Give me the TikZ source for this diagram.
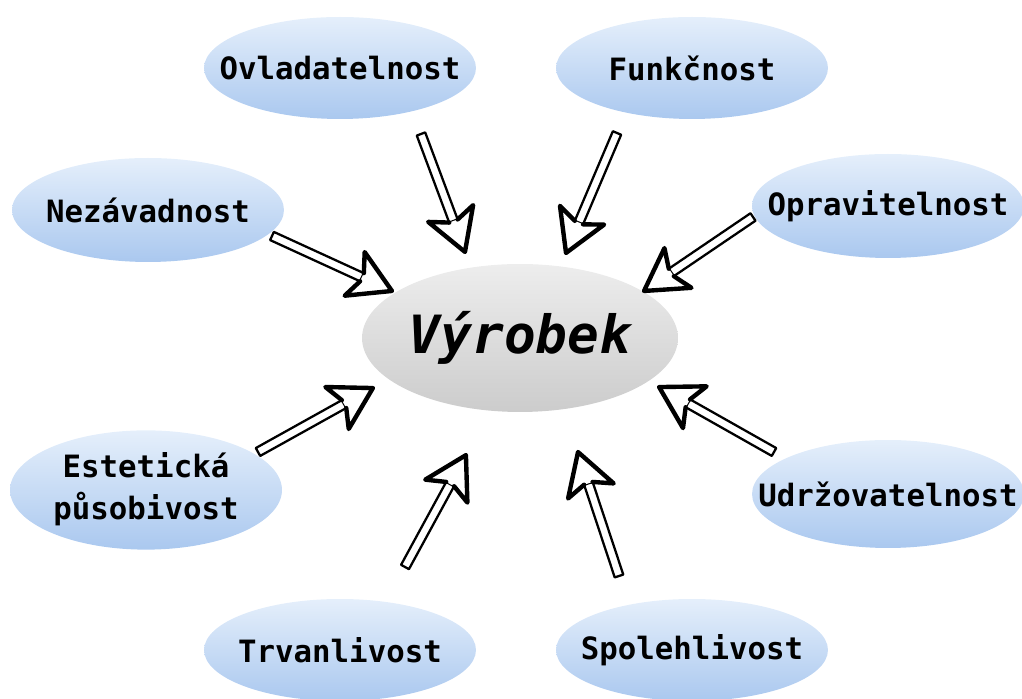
\documentclass[tikz,border=0pt]{standalone}
\usepackage{fontspec}
\setmonofont{DejaVu Sans Mono}
\usepackage{tikz}
\usetikzlibrary{shapes,calc,positioning}
\definecolor{qtop}{RGB}{229,239,251}
\definecolor{qbottom}{RGB}{170,200,239}
\tikzset{
  quality/.style={ellipse, inner sep=0pt, minimum width=5.44cm, minimum height=2.04cm,
    top color=qtop, bottom color=qbottom, draw=none,
    font=\ttfamily\bfseries\fontsize{17.5}{24}\selectfont},
  product/.style={ellipse, inner sep=0pt, minimum width=6.32cm, minimum height=2.96cm,
    top color=gray!14, middle color=gray!26, bottom color=gray!40, draw=none,
    font=\ttfamily\bfseries\itshape\fontsize{30}{36}\selectfont},
  arrowshaft/.style={draw=black, fill=white, line width=1.3pt, line join=round},
  arrowhead/.style={draw=black, fill=white, line width=2.5pt, line join=round, line cap=round}
}
% zero-width label so the ellipse keeps its own size
\newcommand{\lbl}[1]{\makebox[0pt]{#1}}
% hollow hand-drawn arrow from #1 (tail) to #2 (tip)
\newcommand{\hollowarrow}[2]{%
  \path let \p1=(#1), \p2=(#2) in \pgfextra{%
    \pgfmathparse{atan2(\y2-\y1,\x2-\x1)}\xdef\harrang{\pgfmathresult}%
    \pgfmathparse{veclen(\x2-\x1,\y2-\y1)/0.56905}\xdef\harrlen{\pgfmathresult}};
  \begin{scope}[shift={(#1)}, rotate=\harrang]
    \draw[arrowshaft] (0,-4.5) rectangle (\harrlen-33,4.5);
    \draw[arrowhead] (\harrlen-33,4.5) -- (\harrlen-41,24) -- (\harrlen,0)
      -- (\harrlen-41,-24) -- (\harrlen-33,-4.5);
  \end{scope}}

\begin{document}
\begin{tikzpicture}[x=0.02cm, y=0.02cm]
\useasboundingbox (0,0) rectangle (1022,699);

% Centre
\node[product] (vyr) at (520,361) {\lbl{Výrobek}};

% Properties
\node[quality] (ovl) at (340,631) {\lbl{Ovladatelnost}};
\node[quality] (fun) at (692,631) {\lbl{Funkčnost}};
\node[quality, minimum height=2.08cm] (nez) at (148,489) {\lbl{Nezávadnost}};
\node[quality, minimum height=2.08cm] (opr) at (888,493) {\lbl{Opravitelnost}};
\node[quality] (est) at (146,209) {\lbl{\begin{tabular}{@{}c@{}}Estetická\\působivost\end{tabular}}};
\node[quality, minimum height=2.16cm] (udr) at (888,205) {\lbl{Udržovatelnost}};
\node[quality] (trv) at (340,49) {\lbl{Trvanlivost}};
\node[quality] (spo) at (692,49) {\lbl{Spolehlivost}};

% Arrow ends
\coordinate (ovlA) at (421,565); \coordinate (ovlB) at (465,447);
\coordinate (funA) at (617,566); \coordinate (funB) at (566,446);
\coordinate (nezA) at (272,463); \coordinate (nezB) at (392,408);
\coordinate (oprA) at (753,482); \coordinate (oprB) at (644,408);
\coordinate (estA) at (258,247); \coordinate (estB) at (373,311);
\coordinate (udrA) at (774,247); \coordinate (udrB) at (659,312);
\coordinate (trvA) at (405,132); \coordinate (trvB) at (466,244);
\coordinate (spoA) at (619,123); \coordinate (spoB) at (578,247);

% Arrows
\foreach \q in {ovl,fun,nez,opr,est,udr,trv,spo}
  {\hollowarrow{\q A}{\q B}}
\end{tikzpicture}
\end{document}
